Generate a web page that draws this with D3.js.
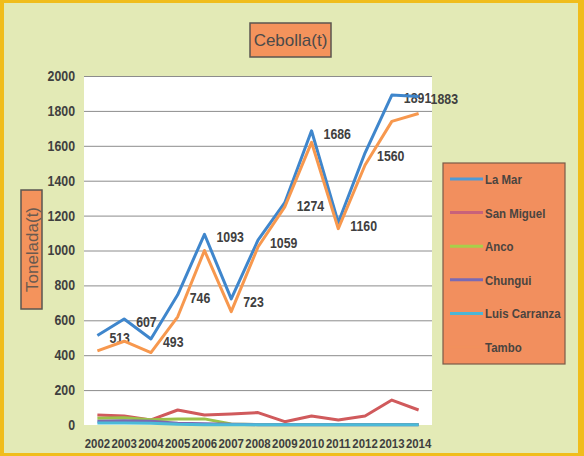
<!DOCTYPE html>
<html>
<head>
<meta charset="utf-8">
<script src="https://cdn.jsdelivr.net/npm/d3@7"></script>
<style>
  body { margin: 0; background: #fff; }
  svg { display: block; }
  .tick text { font-family: "Liberation Sans", Arial, sans-serif; font-weight: bold; font-size: 13px; fill: #3f3f3f; }
  .yaxis .tick text { font-size: 14px; }
  .grid line { stroke: #8c8c8c; stroke-width: 1; }
  .grid .domain, .axis .domain { display: none; }
  .lbl { font-family: "Liberation Sans", Arial, sans-serif; font-weight: bold; font-size: 14px; fill: #404040; }
  .legend { font-family: "Liberation Sans", Arial, sans-serif; font-weight: bold; font-size: 13px; fill: #4a4440; }
</style>
</head>
<body>
<div id="chart"></div>
<script>
// DATA
var years = ["2002","2003","2004","2005","2006","2007","2008","2009","2010","2011","2012","2013","2014"];
var laMar = [513, 607, 493, 746, 1093, 723, 1059, 1274, 1686, 1160, 1560, 1891, 1883];
var sanMiguel = [57, 52, 29, 86, 57, 63, 71, 19, 52, 29, 52, 143, 86];
var anco = [38, 42, 30, 35, 35, 6, 3, 3, 3, 3, 3, 3, 3];
var chungui = [22, 24, 22, 10, 7, 4, 2, 2, 2, 2, 2, 2, 2];
var luisCarranza = [12, 12, 10, 4, 2, 1, 1, 1, 1, 1, 1, 1, 1];
var tambo = [425, 480, 415, 620, 1000, 650, 1020, 1250, 1620, 1125, 1490, 1740, 1785];
var yTicks = [0, 200, 400, 600, 800, 1000, 1200, 1400, 1600, 1800, 2000];

var series = [
  { name: "La Mar", values: laMar, color: "#3f86cc", legendColor: "#4f9ad6" },
  { name: "San Miguel", values: sanMiguel, color: "#d05a5c", legendColor: "#c8627a" },
  { name: "Anco", values: anco, color: "#9bc24a", legendColor: "#a8cf4a" },
  { name: "Chungui", values: chungui, color: "#7d68b0", legendColor: "#7a6ab4" },
  { name: "Luis Carranza", values: luisCarranza, color: "#4bbad8", legendColor: "#4bb6d6" },
  { name: "Tambo", values: tambo, color: "#f7984e", legendColor: "#f2905c" }
];

var W = 584, H = 456;
var plot = { left: 84, right: 432, top: 76, bottom: 425 };

var svg = d3.select("#chart").append("svg")
  .attr("width", W)
  .attr("height", H);

// frame + background
svg.append("rect").attr("x", 0).attr("y", 0).attr("width", W).attr("height", H).attr("fill", "#f0bd1c");
svg.append("rect").attr("x", 4).attr("y", 3).attr("width", W - 10).attr("height", H - 6).attr("fill", "#e3eab6");

// plot area
svg.append("rect")
  .attr("x", plot.left).attr("y", plot.top)
  .attr("width", plot.right - plot.left).attr("height", plot.bottom - plot.top)
  .attr("fill", "#ffffff");

//SCALES
var x = d3.scaleBand().domain(years).range([plot.left, plot.right]);
var y = d3.scaleLinear().domain([0, 2000]).range([plot.bottom, plot.top]);
function cx(d) { return x(d) + x.bandwidth() / 2; }

// gridlines
svg.append("g")
  .attr("class", "grid")
  .attr("transform", "translate(" + plot.left + ",0)")
  .call(d3.axisLeft(y).tickValues(yTicks.filter(function(t){ return t > 0; }))
    .tickSize(-(plot.right - plot.left)).tickFormat(""));

// axes
svg.append("g")
  .attr("class", "axis yaxis")
  .attr("transform", "translate(" + plot.left + ",0)")
  .call(d3.axisLeft(y).tickValues(yTicks).tickSize(0).tickPadding(9).tickFormat(d3.format("d")))
  .selectAll("text").classed("narrow", true);

svg.append("g")
  .attr("class", "axis")
  .attr("transform", "translate(0," + plot.bottom + ")")
  .call(d3.axisBottom(x).tickSize(0).tickPadding(14))
  .selectAll("text").classed("narrow", true);

// LINES
var line = d3.line()
  .x(function(d, i) { return cx(years[i]); })
  .y(function(d) { return y(d); });

// data labels (La Mar) - drawn under the lines
svg.selectAll(".lbl")
  .data(laMar)
  .enter().append("text")
  .attr("class", "lbl narrow")
  .attr("x", function(d, i) { return cx(years[i]) + 12; })
  .attr("y", function(d) { return y(d) + 8; })
  .text(function(d) { return d; });

series.forEach(function(s) {
  svg.append("path")
    .datum(s.values)
    .attr("fill", "none")
    .attr("stroke", s.color)
    .attr("stroke-width", 3)
    .attr("stroke-linejoin", "round")
    .attr("d", line);
});

// TITLE
svg.append("rect").attr("x", 250).attr("y", 23).attr("width", 81).attr("height", 34)
  .attr("fill", "#f4935c").attr("stroke", "#5b5650").attr("stroke-width", 1.5);
svg.append("text")
  .attr("x", 290.5).attr("y", 46)
  .attr("text-anchor", "middle")
  .style("font-family", "'Liberation Sans', Arial, sans-serif")
  .style("font-size", "17px")
  .style("fill", "#4a4a4a")
  .text("Cebolla(t)");

// Y TITLE
svg.append("rect").attr("x", 21).attr("y", 190).attr("width", 21).attr("height", 119)
  .attr("fill", "#f4935c").attr("stroke", "#5b5650").attr("stroke-width", 1.5);
svg.append("text")
  .attr("transform", "translate(38,249.5) rotate(-90)")
  .attr("text-anchor", "middle")
  .style("font-family", "'Liberation Sans', Arial, sans-serif")
  .style("font-size", "17px")
  .style("fill", "#6a5a50")
  .text("Tonelada(t)");

//LEGEND
svg.append("rect").attr("x", 443).attr("y", 163).attr("width", 122).attr("height", 201)
  .attr("fill", "#f28f5e").attr("stroke", "#7a5a48").attr("stroke-width", 1.2);

var leg = svg.selectAll(".leg")
  .data(series)
  .enter().append("g")
  .attr("transform", function(d, i) { return "translate(0," + (179 + i * 33.6) + ")"; });

leg.append("line")
  .attr("x1", 450).attr("x2", 483)
  .attr("y1", 0).attr("y2", 0)
  .attr("stroke", function(d) { return d.legendColor; })
  .attr("stroke-width", 3);

leg.append("text")
  .attr("class", "legend narrow")
  .attr("x", 485).attr("y", 5)
  .text(function(d) { return d.name; });

// squeeze texts to mimic the condensed font of the original
svg.selectAll("text.narrow").each(function() {
  var len = this.getComputedTextLength();
  d3.select(this)
    .attr("textLength", len * 0.88)
    .attr("lengthAdjust", "spacingAndGlyphs");
});
</script>
</body>
</html>
